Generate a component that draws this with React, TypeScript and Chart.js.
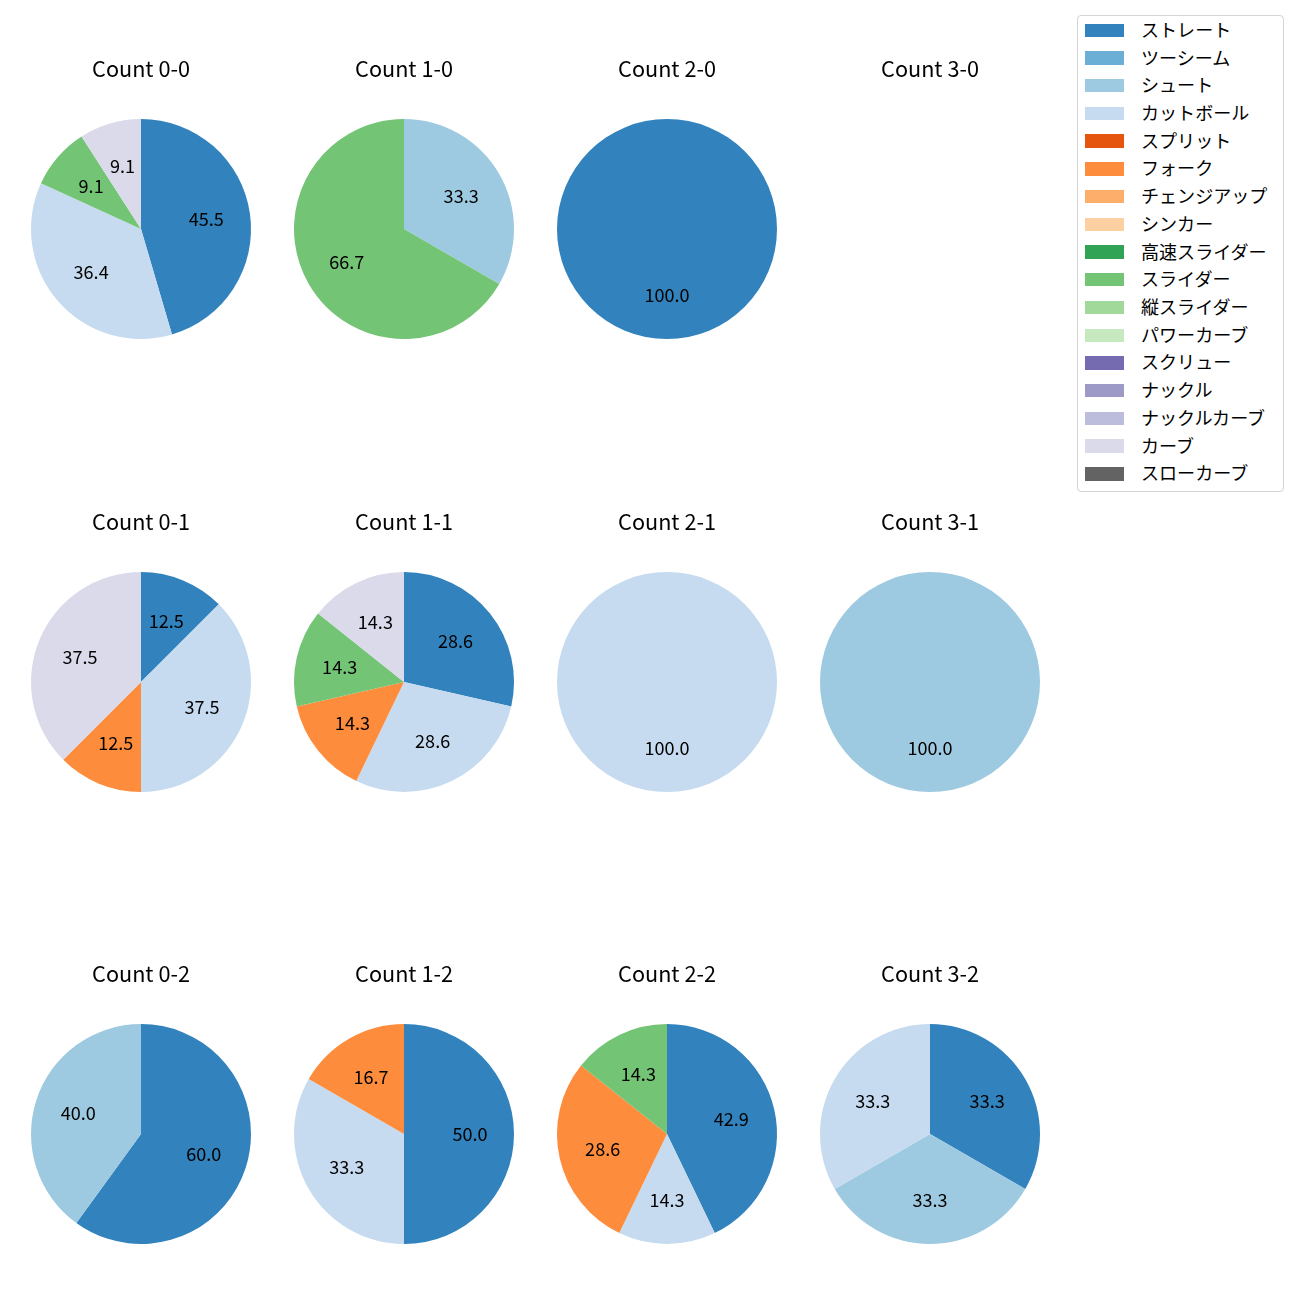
import React, { useEffect, useRef } from "react";
import { Chart, registerables } from "chart.js";

Chart.register(...registerables);

const FONT = "'Noto Sans CJK JP', 'Noto Sans', sans-serif";

const pitchTypes = [
  "ストレート", "ツーシーム", "シュート", "カットボール", "スプリット", "フォーク",
  "チェンジアップ", "シンカー", "高速スライダー", "スライダー", "縦スライダー",
  "パワーカーブ", "スクリュー", "ナックル", "ナックルカーブ", "カーブ", "スローカーブ",
];

const pitchColors = [
  "#3182bd", "#6baed6", "#9ecae1", "#c6dbef", "#e6550d", "#fd8d3c",
  "#fdae6b", "#fdd0a2", "#31a354", "#74c476", "#a1d99b", "#c7e9c0",
  "#756bb1", "#9e9ac8", "#bcbddc", "#dadaeb", "#636363",
];

// pitch counts per ball-strike count, in pitchTypes order
const count00 = [5, 0, 0, 4, 0, 0, 0, 0, 0, 1, 0, 0, 0, 0, 0, 1, 0];
const count10 = [0, 0, 1, 0, 0, 0, 0, 0, 0, 2, 0, 0, 0, 0, 0, 0, 0];
const count20 = [1, 0, 0, 0, 0, 0, 0, 0, 0, 0, 0, 0, 0, 0, 0, 0, 0];
const count30 = [0, 0, 0, 0, 0, 0, 0, 0, 0, 0, 0, 0, 0, 0, 0, 0, 0];
const count01 = [1, 0, 0, 3, 0, 1, 0, 0, 0, 0, 0, 0, 0, 0, 0, 3, 0];
const count11 = [2, 0, 0, 2, 0, 1, 0, 0, 0, 1, 0, 0, 0, 0, 0, 1, 0];
const count21 = [0, 0, 0, 1, 0, 0, 0, 0, 0, 0, 0, 0, 0, 0, 0, 0, 0];
const count31 = [0, 0, 1, 0, 0, 0, 0, 0, 0, 0, 0, 0, 0, 0, 0, 0, 0];
const count02 = [3, 0, 2, 0, 0, 0, 0, 0, 0, 0, 0, 0, 0, 0, 0, 0, 0];
const count12 = [3, 0, 0, 2, 0, 1, 0, 0, 0, 0, 0, 0, 0, 0, 0, 0, 0];
const count22 = [3, 0, 0, 1, 0, 2, 0, 0, 0, 1, 0, 0, 0, 0, 0, 0, 0];
const count32 = [1, 0, 1, 1, 0, 0, 0, 0, 0, 0, 0, 0, 0, 0, 0, 0, 0];

const countLabels = [
  "Count 0-0", "Count 1-0", "Count 2-0", "Count 3-0",
  "Count 0-1", "Count 1-1", "Count 2-1", "Count 3-1",
  "Count 0-2", "Count 1-2", "Count 2-2", "Count 3-2",
];
const countData = [
  count00, count10, count20, count30,
  count01, count11, count21, count31,
  count02, count12, count22, count32,
];

const TITLE_SIZE = 21.67;
const LABEL_SIZE = 18.06;

const pctLabelPlugin = {
  id: "pctLabels",
  afterDatasetsDraw(chart: any) {
    const ds = chart.data.datasets[0];
    const vals: number[] = ds.data;
    const total = vals.reduce((a, b) => a + b, 0);
    if (!total) return;
    const meta = chart.getDatasetMeta(0);
    const ctx = chart.ctx;
    ctx.save();
    ctx.font = `${LABEL_SIZE}px ${FONT}`;
    ctx.fillStyle = "#000";
    ctx.textAlign = "center";
    ctx.textBaseline = "middle";
    meta.data.forEach((arc: any, i: number) => {
      if (!vals[i]) return;
      const p = arc.getProps(["x", "y", "startAngle", "endAngle", "outerRadius"], true);
      const mid = (p.startAngle + p.endAngle) / 2;
      const r = p.outerRadius * 0.6;
      const tx = p.x + Math.cos(mid) * r;
      const ty = p.y + Math.sin(mid) * r;
      ctx.fillText(((vals[i] / total) * 100).toFixed(1), tx, ty);
    });
    ctx.restore();
  },
};

const colX = [141, 404, 667, 930];
const rowTop = [56, 509, 961];
const CW = 260;
const CH = 283;

function PieCell({ idx }: { idx: number }) {
  const ref = useRef<HTMLCanvasElement>(null);
  useEffect(() => {
    if (!ref.current) return;
    const chart = new Chart(ref.current, {
      type: "pie",
      data: {
        labels: pitchTypes,
        datasets: [
          {
            data: countData[idx],
            backgroundColor: pitchColors,
            borderWidth: 0,
            hoverOffset: 0,
          },
        ],
      },
      options: {
        responsive: false,
        maintainAspectRatio: false,
        animation: false,
        layout: { padding: 0 },
        plugins: {
          legend: { display: false },
          tooltip: { enabled: false },
          title: {
            display: true,
            text: countLabels[idx],
            color: "#000",
            font: { size: TITLE_SIZE, family: FONT, weight: "normal" as any, lineHeight: 1.2 },
            padding: { top: 0, bottom: 37 },
          },
        },
      },
      plugins: [pctLabelPlugin],
    });
    return () => chart.destroy();
  }, [idx]);
  const col = idx % 4;
  const row = Math.floor(idx / 4);
  return (
    <canvas
      ref={ref}
      width={CW}
      height={CH}
      style={{
        position: "absolute",
        left: colX[col] - CW / 2,
        top: rowTop[row],
        width: CW,
        height: CH,
      }}
    />
  );
}

function Legend() {
  return (
    <div
      style={{
        position: "absolute",
        left: 1077,
        top: 15,
        width: 205,
        height: 475,
        border: "1px solid #d4d4d4",
        borderRadius: 4,
        background: "rgba(255,255,255,0.8)",
        fontFamily: FONT,
        fontSize: LABEL_SIZE,
        color: "#000",
      }}
    >
      {pitchTypes.map((name, i) => {
        const cy = 14.3 + i * 27.72;
        return (
          <div key={name}>
            <div
              style={{
                position: "absolute",
                left: 7,
                top: cy - 6.7,
                width: 39,
                height: 13.4,
                background: pitchColors[i],
              }}
            />
            <div
              style={{
                position: "absolute",
                left: 63,
                top: cy - 13.5,
                height: 24,
                lineHeight: "24px",
                whiteSpace: "nowrap",
              }}
            >
              {name}
            </div>
          </div>
        );
      })}
    </div>
  );
}

export default function App() {
  return (
    <div
      style={{
        position: "absolute",
        left: 0,
        top: 0,
        width: 1300,
        height: 1300,
        background: "#fff",
        overflow: "hidden",
      }}
    >
      {countLabels.map((_, i) => (
        <PieCell key={i} idx={i} />
      ))}
      <Legend />
    </div>
  );
}
